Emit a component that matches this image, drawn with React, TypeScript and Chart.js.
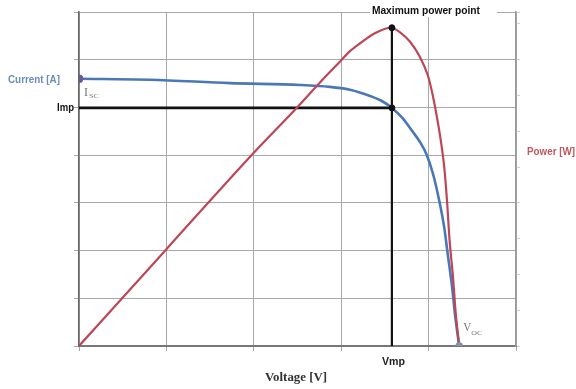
import React, { useEffect, useRef } from "react";
import { Chart, registerables } from "chart.js";

Chart.register(...registerables);

// Current–voltage curve (I-V)
const currentV = [0, 0.81, 1.73, 2.53, 2.87, 3.1, 3.22, 3.33, 3.46, 3.58, 3.7, 3.81, 3.9, 3.98, 4.05, 4.12, 4.18, 4.22, 4.27, 4.3, 4.35];
const currentA = [5.6, 5.58, 5.51, 5.47, 5.43, 5.37, 5.31, 5.24, 5.14, 4.99, 4.78, 4.51, 4.28, 4.0, 3.61, 3.06, 2.47, 1.91, 1.22, 0.69, 0];

// Power–voltage curve (P-V)
const powerV = [0, 1.0, 2.0, 2.49, 2.76, 2.99, 3.1, 3.22, 3.39, 3.57, 3.67, 3.79, 3.9, 3.99, 4.04, 4.08, 4.13, 4.18, 4.21, 4.24, 4.28, 4.31, 4.35];
const powerW = [0, 2.03, 4.05, 4.99, 5.53, 5.97, 6.18, 6.35, 6.56, 6.67, 6.58, 6.37, 6.06, 5.68, 5.32, 4.95, 4.42, 3.73, 3.06, 2.22, 1.43, 0.69, 0];

// Key points
const Vmp = 3.58;
const Imp = 4.99;
const Pmax = 6.67;
const Isc = 5.6;
const Voc = 4.35;

const BLUE = "#4a78b6";
const RED = "#be4656";

function fitText(ctx: CanvasRenderingContext2D, text: string, x: number, y: number, w: number, font: string, color: string) {
  ctx.save();
  ctx.font = font;
  ctx.fillStyle = color;
  ctx.textBaseline = "middle";
  ctx.textAlign = "left";
  const m = ctx.measureText(text).width || 1;
  ctx.translate(x, y);
  ctx.scale(w / m, 1);
  ctx.fillText(text, 0, 0);
  ctx.restore();
}

const annotations = {
  id: "annotations",
  afterDraw(chart: any) {
    const ctx: CanvasRenderingContext2D = chart.ctx;
    const xs = chart.scales.x;
    const ys = chart.scales.y;
    const px = (v: number) => xs.getPixelForValue(v);
    const py = (v: number) => ys.getPixelForValue(v);

    ctx.save();
    ctx.fillStyle = "#ffffff";
    ctx.fillRect(px(Vmp) - 22, py(7) - 4, 127, 9);
    ctx.restore();
    fitText(ctx, "Maximum power point", px(Vmp) - 20, py(7) - 1, 108, "bold 10px 'Liberation Sans Narrow', 'Liberation Sans', sans-serif", "#111");

    fitText(ctx, "Current [A]", 8, py(Isc) + 1, 52, "bold 10px 'Liberation Sans Narrow', 'Liberation Sans', sans-serif", "#6a8cc0");
    fitText(ctx, "Imp", px(0) - 22, py(Imp), 17, "bold 10px 'Liberation Sans Narrow', 'Liberation Sans', sans-serif", "#111");
    fitText(ctx, "Power [W]", 527, 152, 48, "bold 10px 'Liberation Sans Narrow', 'Liberation Sans', sans-serif", "#c2575c");
    fitText(ctx, "Vmp", px(Vmp) - 10, py(0) + 16, 23, "bold 10px 'Liberation Sans Narrow', 'Liberation Sans', sans-serif", "#222");
    fitText(ctx, "Voltage [V]", 265, 378, 62, "bold 12px 'Liberation Serif', serif", "#333");

    fitText(ctx, "I", px(0) + 5, py(Isc) + 14, 4, "12px 'Liberation Serif', serif", "#777");
    fitText(ctx, "SC", px(0) + 10, py(Isc) + 17, 10, "7px 'Liberation Serif', serif", "#777");
    fitText(ctx, "V", px(Voc) + 4, py(0) - 18, 8, "12px 'Liberation Serif', serif", "#777");
    fitText(ctx, "OC", px(Voc) + 12, py(0) - 13, 11, "7px 'Liberation Serif', serif", "#777");
  },
};

export default function App() {
  const ref = useRef<HTMLCanvasElement | null>(null);

  useEffect(() => {
    if (!ref.current) return;
    const chart = new Chart(ref.current, {
      type: "line",
      data: {
        datasets: [
          {
            label: "Imp line",
            data: [{ x: 0, y: Imp }, { x: Vmp, y: Imp }],
            borderColor: "#111",
            borderWidth: 2.6,
            pointRadius: 0,
            order: 3,
          },
          {
            label: "Vmp line",
            data: [{ x: Vmp, y: 0 }, { x: Vmp, y: Pmax }],
            borderColor: "#111",
            borderWidth: 2.2,
            pointRadius: 0,
            order: 3,
          },
          {
            label: "Current [A]",
            data: currentV.map((v, i) => ({ x: v, y: currentA[i] })),
            borderColor: BLUE,
            borderWidth: 2.6,
            pointRadius: 0,
            cubicInterpolationMode: "monotone",
            order: 2,
          },
          {
            label: "Power [W]",
            data: powerV.map((v, i) => ({ x: v, y: powerW[i] })),
            borderColor: RED,
            borderWidth: 2.2,
            pointRadius: 0,
            cubicInterpolationMode: "monotone",
            order: 1,
          },
          {
            label: "points",
            data: [{ x: Vmp, y: Imp }, { x: Vmp, y: Pmax }],
            showLine: false,
            pointRadius: 3,
            pointBackgroundColor: "#111",
            pointBorderColor: "#111",
            order: 0,
          },
          {
            label: "Isc",
            data: [{ x: 0, y: Isc }],
            showLine: false,
            pointRadius: 4,
            pointBackgroundColor: "#6b5a96",
            pointBorderColor: "#6b5a96",
            order: 0,
          },
          {
            label: "Voc",
            data: [{ x: Voc, y: 0 }],
            showLine: false,
            pointRadius: 3.5,
            pointBackgroundColor: "#7f93aa",
            pointBorderColor: "#7f93aa",
            order: 0,
          },
        ],
      },
      options: {
        animation: false,
        responsive: false,
        devicePixelRatio: 1,
        layout: { padding: { left: 74, right: 56, top: 12, bottom: 38 } },
        plugins: { legend: { display: false }, tooltip: { enabled: false } },
        scales: {
          x: {
            type: "linear",
            min: 0,
            max: 5,
            ticks: { display: false, stepSize: 1 },
            grid: { color: "#a8a8a8", lineWidth: 1, tickLength: 5 },
            border: { color: "#777", width: 2 },
          },
          y: {
            type: "linear",
            min: 0,
            max: 7,
            ticks: { display: false, stepSize: 1 },
            grid: { color: "#a8a8a8", lineWidth: 1, tickLength: 5 },
            border: { color: "#666", width: 1.5 },
          },
          y2: {
            type: "linear",
            position: "right",
            min: 0,
            max: 7,
            ticks: { display: false, stepSize: 0.75 },
            grid: { drawOnChartArea: false, color: "#d0d0d0", tickLength: 4 },
            border: { color: "#999", width: 1.5 },
          },
        },
      },
      plugins: [annotations],
    });
    return () => chart.destroy();
  }, []);

  return (
    <div style={{ position: "absolute", left: 0, top: 0, width: 576, height: 389, background: "#fff" }}>
      <canvas ref={ref} width={576} height={389} style={{ width: 576, height: 389, display: "block" }} />
    </div>
  );
}
